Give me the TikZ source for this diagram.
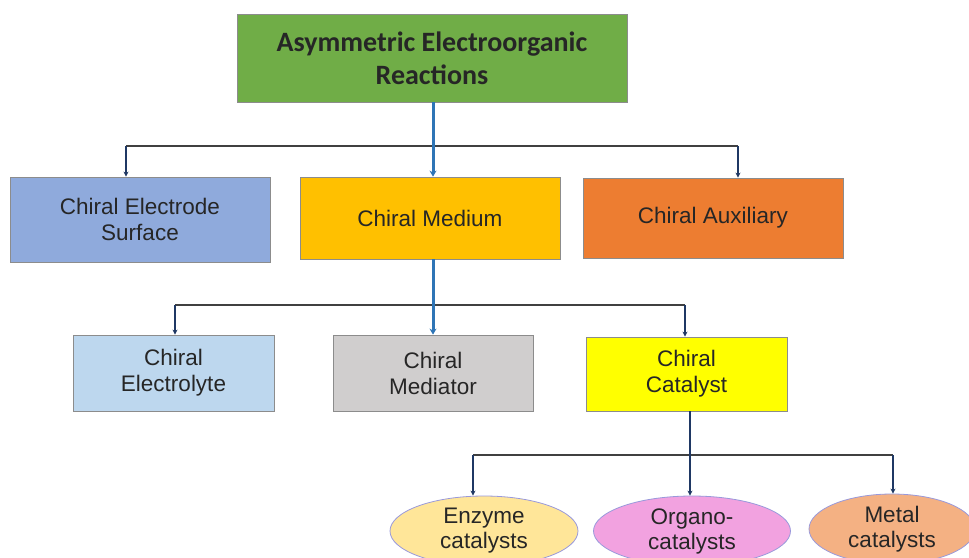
\documentclass[tikz,border=0pt]{standalone}
\usepackage{fontspec}
\setmainfont{Liberation Sans}
\newfontfamily\topfont{Carlito}
\usetikzlibrary{shapes.geometric,arrows.meta}
\definecolor{cgreen}{HTML}{70AD47}
\definecolor{celec}{HTML}{8FAADC}
\definecolor{cmed}{HTML}{FFC000}
\definecolor{caux}{HTML}{ED7D31}
\definecolor{clyte}{HTML}{BDD7EE}
\definecolor{cmedi}{HTML}{D0CECE}
\definecolor{ccat}{HTML}{FFFF00}
\definecolor{cenz}{HTML}{FFE699}
\definecolor{corg}{HTML}{F2A2E0}
\definecolor{cmet}{HTML}{F4B183}
\definecolor{cnavy}{HTML}{1F3864}
\definecolor{cblue}{HTML}{2E75B6}
\definecolor{ctext}{HTML}{262626}
\tikzset{
  box/.style={draw=black!45, line width=0.8pt, inner sep=0pt, align=center, text=ctext,
    font=\fontsize{22.5}{26}\selectfont},
  oval/.style={ellipse, draw=black!35!blue!40, line width=0.8pt, inner sep=0pt, align=center,
    text=ctext, font=\fontsize{22.5}{25}\selectfont},
  bus/.style={draw=black!75, line width=1.6pt},
  drop/.style={draw=cnavy, line width=2pt, -{Stealth[length=5pt,width=5pt]}},
  main/.style={draw=cblue, line width=3pt, -{Stealth[length=6pt,width=7pt]}},
}
\begin{document}
\begin{tikzpicture}[x=1pt,y=-1pt]
\useasboundingbox (0,0) rectangle (969,557);
\clip (0,0) rectangle (969,557);
% nodes
\node[box, fill=cgreen, minimum width=390pt, minimum height=88pt, font=\topfont\bfseries\fontsize{28}{33}\selectfont] (top) at (432,58) {Asymmetric Electroorganic\\Reactions};
\node[box, fill=celec, minimum width=260pt, minimum height=85pt] (elec) at (140,219.5) {Chiral Electrode\\Surface};
\node[box, fill=cmed, minimum width=260pt, minimum height=82pt] (med) at (430,218) {Chiral Medium};
\node[box, fill=caux, minimum width=260pt, minimum height=80pt] (aux) at (713,218) {Chiral Auxiliary};
\node[box, fill=clyte, minimum width=201pt, minimum height=76pt] (lyte) at (173.5,373) {Chiral\\Electrolyte};
\node[box, fill=cmedi, minimum width=200pt, minimum height=76pt] (medi) at (433,373) {Chiral\\Mediator};
\node[box, fill=ccat, minimum width=201pt, minimum height=74pt] (cat) at (686.5,374) {Chiral\\Catalyst};
\node[oval, fill=cenz, minimum width=188pt, minimum height=70pt] (enz) at (484,531) {Enzyme\\catalysts};
\node[oval, fill=corg, minimum width=197pt, minimum height=70pt] (org) at (692,531) {Organo-\\catalysts};
\node[oval, fill=cmet, minimum width=166pt, minimum height=70pt] (met) at (892,529) {Metal\\catalysts};
% bus coordinates
\coordinate (b1l) at (126,146);
\coordinate (b1r) at (738,146);
\coordinate (b2l) at (175,305);
\coordinate (b2r) at (685,305);
\coordinate (b3l) at (473,455);
\coordinate (b3r) at (893,455);
% level 1
\draw[bus] (b1l) -- (b1r);
\draw[drop] (b1l) -- (b1l |- elec.north);
\draw[drop] (b1r) -- (b1r |- aux.north);
\draw[main] (top.south -| med.north) ++(3,0) coordinate (m1) (m1) -- (m1 |- med.north);
% level 2
\draw[bus] (b2l) -- (b2r);
\draw[drop] (b2l) -- (b2l |- lyte.north);
\draw[drop] (b2r) -- (b2r |- cat.north);
\draw[main] (med.south -| medi.north) -- (medi.north);
% level 3
\draw[bus] (b3l) -- (b3r);
\draw[drop] (b3l) -- (b3l |- enz.north);
\draw[drop] (b3r) -- (b3r |- met.north);
\draw[drop] (cat.south -| org.north) ++(-2,0) coordinate (c1) (c1) -- (c1 |- org.north);
\end{tikzpicture}
\end{document}
